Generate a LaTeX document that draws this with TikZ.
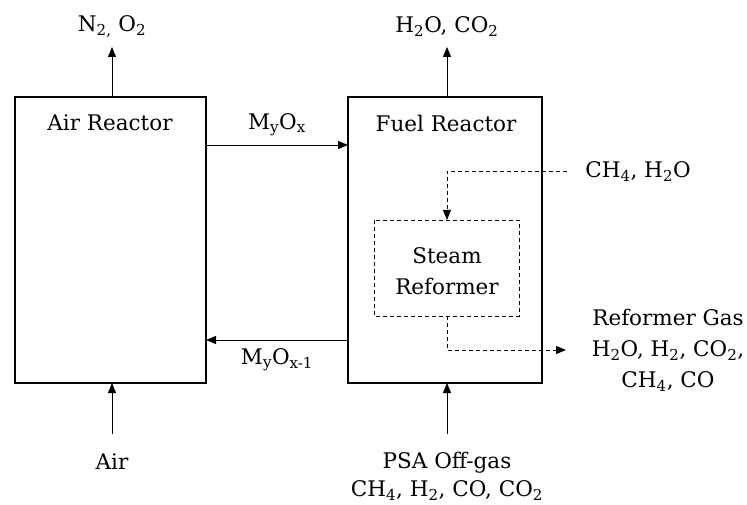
\documentclass[tikz,border=0pt]{standalone}
\usepackage{fontspec}
\setmainfont{DejaVu Serif}
\usetikzlibrary{arrows.meta}
\begin{document}
\begin{tikzpicture}[x=1pt,y=-1pt,
  txt/.style={font=\fontsize{21.5}{31}\selectfont, inner sep=0pt, align=center},
  reactor/.style={draw, line width=2pt},
  flow/.style={line width=0.9pt, -{Triangle[length=10pt,width=8pt]}},
  dflow/.style={line width=0.9pt, dash pattern=on 4pt off 3pt, -{Triangle[length=10pt,width=8pt]}},
  dline/.style={line width=0.9pt, dash pattern=on 4pt off 3pt}]
\useasboundingbox (0,0) rectangle (747,505);
% boxes
\draw[reactor] (15,97.5) rectangle (206,383);
\draw[reactor] (348,97.5) rectangle (542,383);
\draw[dline] (374,220) rectangle (519,316);
\node[txt] (ar) at (110,123) {Air Reactor};
\node[txt] (fr) at (446,123) {Fuel Reactor};
\node[txt] (sr) at (447,271) {Steam\\Reformer};
% coordinates
\coordinate (artop) at (112,97.5);
\coordinate (arbot) at (112,383);
\coordinate (frtop) at (447,97.5);
\coordinate (frbot) at (447,383);
\coordinate (arr1) at (206,145);
\coordinate (frl1) at (348,145);
\coordinate (arr2) at (206,340);
\coordinate (frl2) at (348,340);
\coordinate (srtop) at (447,220);
\coordinate (srbot) at (447,316);
\coordinate (inS) at (567,171);
\coordinate (outE) at (566,350);
\coordinate (airin) at (112,434);
\coordinate (psain) at (447,434);
% labels
\node[txt] (n2) at (112,27) {N\textsubscript{2,} O\textsubscript{2}};
\node[txt] (h2o) at (447,27) {H\textsubscript{2}O, CO\textsubscript{2}};
\node[txt] (myox) at (277,125) {M\textsubscript{y}O\textsubscript{x}};
\node[txt] (myox1) at (277,360) {M\textsubscript{y}O\textsubscript{x-1}};
\node[txt] (ch4) at (638,172) {CH\textsubscript{4}, H\textsubscript{2}O};
\node[txt] (rg) at (668,350) {Reformer Gas\\H\textsubscript{2}O, H\textsubscript{2}, CO\textsubscript{2},\\CH\textsubscript{4}, CO};
\node[txt] (air) at (112,462) {Air};
\node[txt] (psa) at (447,476) {PSA Off-gas\\[-3pt]CH\textsubscript{4}, H\textsubscript{2}, CO, CO\textsubscript{2}};
% arrows
\draw[flow] (artop) -- (112,47);
\draw[flow] (frtop) -- (447,47);
\draw[flow] (arr1) -- (frl1);
\draw[flow] (frl2) -- (arr2);
\draw[flow] (airin) -- (arbot);
\draw[flow] (psain) -- (frbot);
\draw[dflow] (inS) -- (447,171) -- (srtop);
\draw[dflow] (srbot) -- (447,350) -- (outE);
\end{tikzpicture}
\end{document}
